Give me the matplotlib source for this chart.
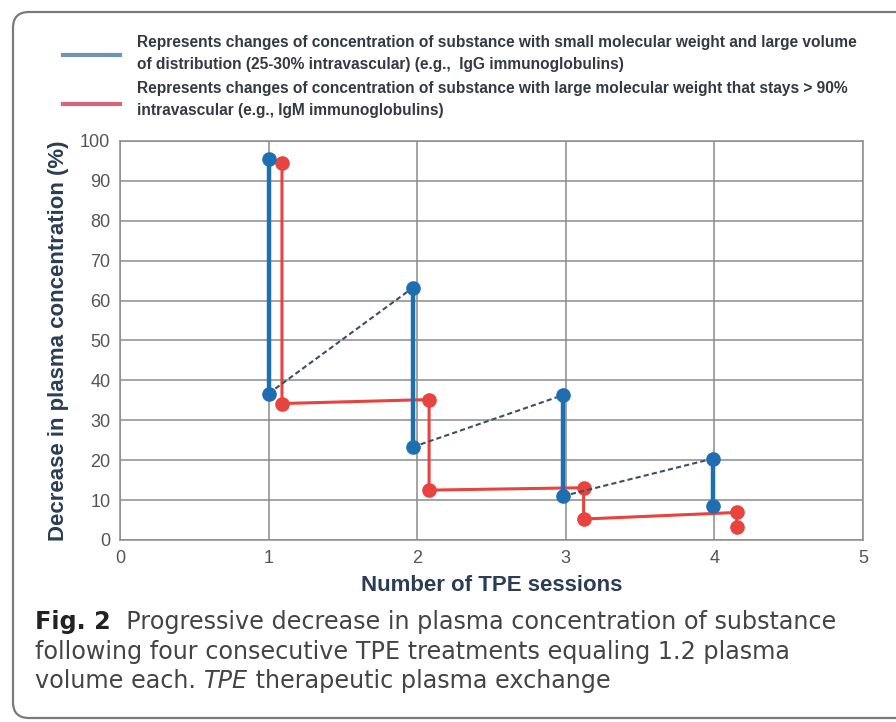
import matplotlib
matplotlib.use("Agg")
import matplotlib.pyplot as plt
from matplotlib.patches import FancyBboxPatch
from matplotlib.lines import Line2D
from matplotlib.transforms import IdentityTransform

# values
sessions_blue = [1.0, 1.0, 1.97, 1.97, 2.98, 2.98, 3.99, 3.99]
conc_blue = [95.4, 36.7, 63.2, 23.3, 36.3, 11.0, 20.4, 8.6]
sessions_red = [1.09, 1.09, 2.08, 2.08, 3.12, 3.12, 4.15, 4.15]
conc_red = [94.4, 34.2, 35.2, 12.5, 13.1, 5.25, 6.9, 3.3]

x_ticks = [0, 1, 2, 3, 4, 5]
y_ticks = [0, 10, 20, 30, 40, 50, 60, 70, 80, 90, 100]

legend_blue = ["Represents changes of concentration of substance with small molecular weight and large volume",
               "of distribution (25-30% intravascular) (e.g.,  IgG immunoglobulins)"]
legend_red = ["Represents changes of concentration of substance with large molecular weight that stays > 90%",
              "intravascular (e.g., IgM immunoglobulins)"]

caption = [
    [("Fig. 2", "bold", "normal"), ("  Progressive decrease in plasma concentration of substance", "normal", "normal")],
    [("following four consecutive TPE treatments equaling 1.2 plasma", "normal", "normal")],
    [("volume each. ", "normal", "normal"), ("TPE", "normal", "italic"), (" therapeutic plasma exchange", "normal", "normal")],
]

BLUE = "#1f6eb2"
RED = "#e8433f"
GRID = "#8c8c8c"
LABEL = "#2b3d52"
CAP_FONT = "DejaVu Sans"

W, H = 896, 722
fig = plt.figure(figsize=(W / 100, H / 100), dpi=100)
fig.patch.set_facecolor("white")

# rounded frame around the whole figure
frame = FancyBboxPatch((13, 4), 1000, 706, boxstyle="round,pad=0,rounding_size=16",
                       transform=IdentityTransform(), facecolor="none",
                       edgecolor="#7a7a7a", linewidth=1.6)
fig.add_artist(frame)

ax = fig.add_axes([120 / W, 1 - 540 / H, (863 - 120) / W, (540 - 141) / H])
ax.set_xlim(0, 5)
ax.set_ylim(0, 100)
ax.set_xticks(x_ticks)
ax.set_yticks(y_ticks)
ax.grid(True, color=GRID, linewidth=1.1)
ax.set_axisbelow(True)
for s in ax.spines.values():
    s.set_color(GRID)
    s.set_linewidth(1.1)
ax.tick_params(length=0, labelsize=13, labelcolor="#555555", pad=7)
for lab in ax.get_xticklabels() + ax.get_yticklabels():
    lab.set_fontfamily("Liberation Sans")

# red series: one connected solid line
ax.plot(sessions_red, conc_red, color=RED, linewidth=2.2, marker="o",
        markersize=9.5, zorder=3)

# blue series: solid drops during sessions, dashed rebound between them
for i in range(0, len(sessions_blue), 2):
    ax.plot(sessions_blue[i:i + 2], conc_blue[i:i + 2], color=BLUE,
            linewidth=3.2, zorder=4)
for i in range(1, len(sessions_blue) - 1, 2):
    ax.plot(sessions_blue[i:i + 2], conc_blue[i:i + 2], color="#3c5063",
            linewidth=1.5, linestyle=(0, (2.5, 1.5)), zorder=5)
ax.plot(sessions_blue, conc_blue, "o", color=BLUE, markersize=9.5, zorder=6)

ax.set_xlabel("Number of TPE sessions", fontsize=16, fontweight="bold",
              color=LABEL, family="Liberation Sans", labelpad=6)
ax.set_ylabel("Decrease in plasma concentration (%)", fontsize=16,
              fontweight="bold", color=LABEL, family="Liberation Sans", labelpad=8)

# legend drawn by hand above the axes
fig.add_artist(Line2D([63 / W, 120 / W], [1 - 55 / H, 1 - 55 / H],
                      color="#6f93b6", linewidth=3))
fig.add_artist(Line2D([63 / W, 120 / W], [1 - 104 / H, 1 - 104 / H],
                      color="#d9647a", linewidth=3))
for txt, yp in zip(legend_blue + legend_red, [42, 65, 88, 111]):
    fig.text(137 / W, 1 - yp / H, txt, fontsize=11.2, fontweight="bold",
             color="#333a44", family="Liberation Sans", va="center")

# caption, with bold and italic runs placed one after another;
# size chosen so the first line spans the same width as the printed one
renderer = fig.canvas.get_renderer()

def put_line(line, yp, size):
    x = 35
    made = []
    for txt, weight, style in line:
        t = fig.text(x / W, 1 - yp / H, txt, fontsize=size, fontweight=weight,
                     fontstyle=style,
                     color="#444444" if weight == "normal" else "#222222",
                     family=CAP_FONT, va="baseline")
        x += t.get_window_extent(renderer).width
        made.append(t)
    return x, made

probe, probe_texts = put_line(caption[0], 300, 16)
for t in probe_texts:
    t.remove()
cap_size = 16 * (838 - 35) / (probe - 35)
for line, yp in zip(caption, [629, 659, 688]):
    put_line(line, yp, cap_size)

fig.savefig("out.png", dpi=100)
